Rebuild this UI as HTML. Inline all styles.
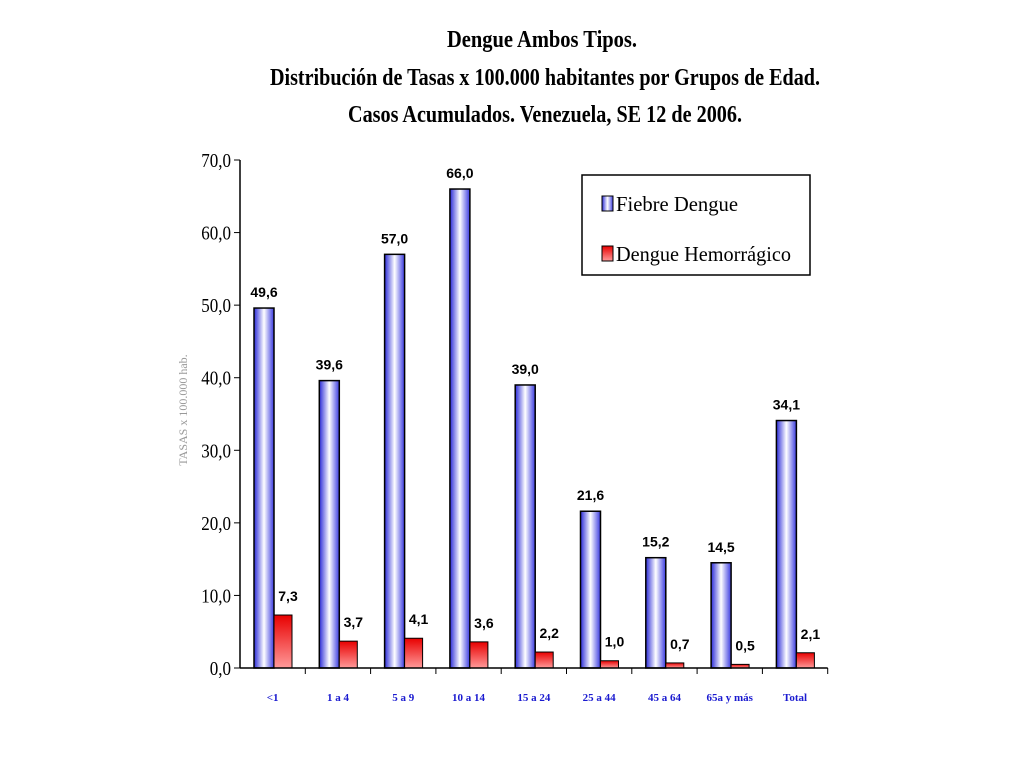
<!DOCTYPE html>
<html><head><meta charset="utf-8"><style>
body{margin:0;background:#fff;}
svg{display:block;font-family:"Liberation Serif",serif;}
</style></head><body>
<svg width="1024" height="768">
<defs>
<linearGradient id="gb" x1="0" x2="1" y1="0" y2="0"><stop offset="0" stop-color="#2a2ad8"/><stop offset="0.5" stop-color="#ffffff"/><stop offset="1" stop-color="#3a3ae0"/></linearGradient>
<linearGradient id="gr" x1="0" x2="0" y1="0" y2="1"><stop offset="0" stop-color="#e80000"/><stop offset="1" stop-color="#ff9a9a"/></linearGradient>
</defs>
<g font-weight="bold" font-size="24" text-anchor="middle" fill="#000">
<text x="542" y="47" textLength="190" lengthAdjust="spacingAndGlyphs">Dengue Ambos Tipos.</text>
<text x="545" y="85" textLength="550" lengthAdjust="spacingAndGlyphs">Distribución de Tasas x 100.000 habitantes por Grupos de Edad.</text>
<text x="545" y="122" textLength="394" lengthAdjust="spacingAndGlyphs">Casos Acumulados. Venezuela, SE 12 de 2006.</text>
</g>
<text transform="translate(187,410) rotate(-90)" text-anchor="middle" font-size="12" fill="#999">TASAS x 100.000 hab.</text>
<g id="plot"></g>
<g>
<rect x="582" y="175" width="228" height="100" fill="#fff" stroke="#000" stroke-width="1.5"/>
<rect x="602" y="196" width="11" height="15" fill="url(#gb)" stroke="#000"/>
<text x="616" y="211" font-size="21" textLength="122" lengthAdjust="spacingAndGlyphs">Fiebre Dengue</text>
<rect x="602" y="246" width="11" height="15" fill="url(#gr)" stroke="#000"/>
<text x="616" y="261" font-size="21" textLength="175" lengthAdjust="spacingAndGlyphs">Dengue Hemorrágico</text>
</g>
</svg>
<script>
const categories=["<1","1 a 4","5 a 9","10 a 14","15 a 24","25 a 44","45 a 64","65a y más","Total"];
const fiebre=[49.6,39.6,57.0,66.0,39.0,21.6,15.2,14.5,34.1];
const hemorragico=[7.3,3.7,4.1,3.6,2.2,1.0,0.7,0.5,2.1];
const yTicks=[0,10,20,30,40,50,60,70];
const NS="http://www.w3.org/2000/svg";
const g=document.getElementById('plot');
const x0=240,cw=65.3,y0=668,ppu=508/70;
const y=v=>y0-v*ppu;
function mk(t,a,txt){const e=document.createElementNS(NS,t);for(const k in a)e.setAttribute(k,a[k]);if(txt!==undefined)e.textContent=txt;g.appendChild(e);return e;}
const fmt=v=>v.toFixed(1).replace('.',',');
yTicks.forEach(t=>{
 const l=mk('line',{x1:234,x2:240,y1:y(t),y2:y(t),stroke:'#000'});
 
 
 const tx=mk('text',{x:231,y:y(t)+7,'text-anchor':'end','font-size':20,transform:`translate(231,0) scale(0.85,1) translate(-231,0)`},fmt(t));
 
 
});
categories.forEach((c,i)=>{
 const cx=x0+i*cw;
 const b=mk('rect',{x:cx+14,y:y(fiebre[i]),width:20,height:fiebre[i]*ppu,fill:'url(#gb)',stroke:'#000','stroke-width':1.5});
 
 
 const r=mk('rect',{x:cx+34,y:y(hemorragico[i]),width:18,height:hemorragico[i]*ppu,fill:'url(#gr)',stroke:'#000','stroke-width':1});
 
 
 const l1=mk('text',{x:cx+24,y:y(fiebre[i])-11,'text-anchor':'middle','font-size':14,'font-family':'Liberation Sans Narrow, Liberation Sans, sans-serif','font-weight':'bold'},fmt(fiebre[i]));
 
 
 const l2=mk('text',{x:cx+48,y:y(hemorragico[i])-14,'text-anchor':'middle','font-size':14,'font-family':'Liberation Sans Narrow, Liberation Sans, sans-serif','font-weight':'bold'},fmt(hemorragico[i]));
 
 
 const xl=mk('text',{x:cx+cw/2,y:701,'text-anchor':'middle','font-size':11,'font-weight':'bold',fill:'#1a1ad0'},c);
 
 
 const tk=mk('line',{x1:cx+cw,x2:cx+cw,y1:y0,y2:y0+6,stroke:'#000'});
 
 
});
const ya=mk('line',{x1:240,x2:240,y1:y(70),y2:y0,stroke:'#000','stroke-width':1.5});


const xa=mk('line',{x1:240,x2:x0+9*cw,y1:y0,y2:y0,stroke:'#000','stroke-width':1.5});


</script>
</body></html>
